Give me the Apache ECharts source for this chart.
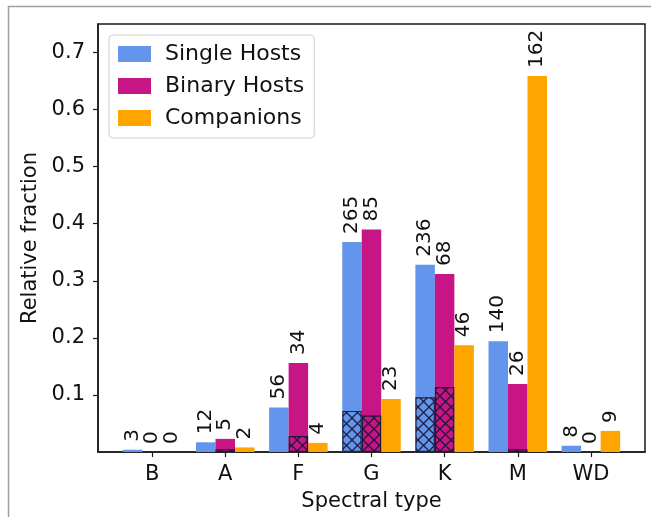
<!DOCTYPE html>
<html>
<head>
<meta charset="utf-8">
<script src="https://cdn.jsdelivr.net/npm/echarts@6/dist/echarts.min.js"></script>
<style>
  html, body { margin: 0; padding: 0; background: #fff; }
  #chart { width: 651px; height: 517px; }
</style>
</head>
<body>
<div id="chart"></div>
<script>
// ---- data ----
const categories = ['B', 'A', 'F', 'G', 'K', 'M', 'WD'];
const seriesNames = ['Single Hosts', 'Binary Hosts', 'Companions'];

const singleFraction     = [0.004, 0.017, 0.078, 0.368, 0.328, 0.194, 0.011];
const binaryFraction     = [0.000, 0.023, 0.156, 0.390, 0.312, 0.119, 0.000];
const companionFraction  = [0.000, 0.008, 0.016, 0.093, 0.187, 0.659, 0.037];

const singleCounts    = [3, 12, 56, 265, 236, 140, 8];
const binaryCounts    = [0, 5, 34, 85, 68, 26, 0];
const companionCounts = [0, 2, 4, 23, 46, 162, 9];

// hatched (cross-hatched) lower parts of bars
const singleHatch    = [0, 0, 0, 0.072, 0.096, 0, 0];
const binaryHatch    = [0, 0.005, 0.028, 0.064, 0.114, 0.005, 0];
const companionHatch = [0, 0, 0, 0, 0, 0, 0];

const yTicks = [0.1, 0.2, 0.3, 0.4, 0.5, 0.6, 0.7];
const xTicks = [0, 1, 2, 3, 4, 5, 6];

// ---- styles ----
const colors = ['#6495ED', '#C71585', '#FFA500'];
const FONT = 'DejaVu Sans';
const TXT = '#111';
const HATCH = 'rgba(20,22,50,0.9)';

function makeHatch() {
  const s = 11;
  const c = document.createElement('canvas');
  c.width = s; c.height = s;
  const g = c.getContext('2d');
  g.strokeStyle = HATCH;
  g.lineWidth = 1.3;
  for (const k of [-s, 0, s]) {
    g.beginPath(); g.moveTo(k, 0); g.lineTo(k + s, s); g.stroke();
    g.beginPath(); g.moveTo(k, s); g.lineTo(k + s, 0); g.stroke();
  }
  return c;
}
const hatchCanvas = makeHatch();

function mainSeries(name, values, counts, color) {
  return {
    name: name,
    type: 'bar',
    xAxisIndex: 0,
    yAxisIndex: 0,
    barCategoryGap: '20%',
    barGap: '0%',
    itemStyle: { color: color },
    label: {
      show: true,
      position: 'top',
      rotate: 90,
      align: 'left',
      verticalAlign: 'middle',
      distance: 8,
      fontFamily: FONT,
      fontSize: 20,
      color: TXT,
      formatter: p => String(counts[p.dataIndex])
    },
    emphasis: { disabled: true },
    data: values.map((v, i) => [i, v])
  };
}

function hatchSeries(name, values) {
  return {
    name: name,
    type: 'bar',
    xAxisIndex: 1,
    yAxisIndex: 0,
    barCategoryGap: '20%',
    barGap: '0%',
    z: 3,
    itemStyle: {
      color: { image: hatchCanvas, repeat: 'repeat' },
      borderColor: HATCH,
      borderWidth: 1.2
    },
    emphasis: { disabled: true },
    data: values.map((v, i) => [i, v > 0 ? v : '-'])
  };
}

const xAxisCommon = {
  type: 'value',
  min: -0.74,
  max: 6.74,
  splitLine: { show: false }
};

const option = {
  animation: false,
  backgroundColor: '#fff',
  textStyle: { fontFamily: FONT },
  graphic: [
    { type: 'line', shape: { x1: 8, y1: 6.5, x2: 651, y2: 6.5 }, style: { stroke: '#a0a0a0', lineWidth: 1.5 } },
    { type: 'line', shape: { x1: 8.5, y1: 6, x2: 8.5, y2: 517 }, style: { stroke: '#a0a0a0', lineWidth: 1.5 } }
  ],
  grid: {
    left: 98, right: 6, top: 24, bottom: 65,
    show: true,
    borderColor: '#1a1a1a',
    borderWidth: 1.5,
    backgroundColor: 'transparent'
  },
  legend: {
    data: seriesNames,
    orient: 'vertical',
    left: 109,
    top: 35,
    itemWidth: 33,
    itemHeight: 16,
    itemGap: 10,
    icon: 'rect',
    padding: [8, 10, 9, 9],
    backgroundColor: '#fff',
    borderColor: '#cfcfcf',
    borderWidth: 1,
    borderRadius: 4,
    selectedMode: false,
    textStyle: {
      fontFamily: FONT,
      fontSize: 22,
      lineHeight: 22,
      color: TXT,
      padding: [0, 0, 0, 9]
    }
  },
  xAxis: [
    Object.assign({}, xAxisCommon, {
      name: 'Spectral type',
      nameLocation: 'middle',
      nameGap: 39,
      nameTextStyle: { fontFamily: FONT, fontSize: 21, color: TXT },
      axisLine: { show: true, onZero: false, lineStyle: { color: '#1a1a1a', width: 1.5 } },
      axisTick: { show: true, length: 5, customValues: xTicks, lineStyle: { color: '#1a1a1a', width: 1.2 } },
      axisLabel: {
        customValues: xTicks,
        margin: 12,
        fontFamily: FONT,
        fontSize: 21,
        color: TXT,
        formatter: v => categories[Math.round(v)]
      }
    }),
    Object.assign({}, xAxisCommon, {
      show: false,
      axisLine: { show: false, onZero: false }
    })
  ],
  yAxis: {
    type: 'value',
    min: 0,
    max: 0.75,
    name: 'Relative fraction',
    nameLocation: 'middle',
    nameGap: 53,
    nameTextStyle: { fontFamily: FONT, fontSize: 21, color: TXT },
    splitLine: { show: false },
    axisLine: { show: true, onZero: false, lineStyle: { color: '#1a1a1a', width: 1.5 } },
    axisTick: { show: true, length: 5, customValues: yTicks, lineStyle: { color: '#1a1a1a', width: 1.2 } },
    axisLabel: {
      customValues: yTicks,
      margin: 13,
      fontFamily: FONT,
      fontSize: 21,
      color: TXT,
      formatter: v => v.toFixed(1)
    }
  },
  series: [
    mainSeries(seriesNames[0], singleFraction, singleCounts, colors[0]),
    mainSeries(seriesNames[1], binaryFraction, binaryCounts, colors[1]),
    mainSeries(seriesNames[2], companionFraction, companionCounts, colors[2]),
    hatchSeries('Single Hosts (hatched)', singleHatch),
    hatchSeries('Binary Hosts (hatched)', binaryHatch),
    hatchSeries('Companions (hatched)', companionHatch)
  ]
};

const chart = echarts.init(document.getElementById('chart'), null, { renderer: 'canvas' });
chart.setOption(option);
</script>
</body>
</html>
